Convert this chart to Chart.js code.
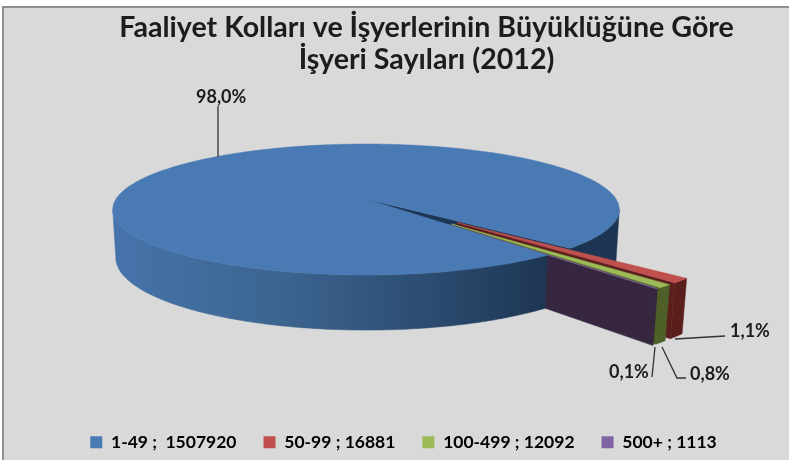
<!DOCTYPE html>
<html>
<head>
<meta charset="utf-8">
<script src="https://cdn.jsdelivr.net/npm/chart.js@4"></script>
<style>
  html, body { margin: 0; padding: 0; background: #fff; }
  #wrap { width: 789px; height: 460px; overflow: hidden; }
  #myChart { filter: blur(0.5px); }
</style>
</head>
<body>
<div id="wrap"><canvas id="myChart" width="789" height="460"></canvas></div>
<script>
const categories = ['1-49', '50-99', '100-499', '500+'];
const isyeriSayilari = [1507920, 16881, 12092, 1113];
const yuzdeEtiketleri = ['98,0%', '1,1%', '0,8%', '0,1%'];
const titleLines = ['Faaliyet Kolları ve İşyerlerinin Büyüklüğüne Göre', 'İşyeri Sayıları (2012)'];

const topColors = ['#4a7ab4', '#c0504d', '#9bbb59', '#8064a2'];
const wallColors = ['#1c3553', '#5a1f1c', '#4e6028', '#36263f'];

// perspective of the 3d pie, top face at z=0, floor at z=1
const cam = { cx: 366, cy: 199, a: 250, b: 63.8, h: 47.9, p: 0.16, q: 0.012 };
const EXPLODE = 0.49;
const SILHOUETTE = Math.asin(cam.p);

const project = (u, v, z) => {
  const w = 1 - cam.p * v + cam.q * z;
  return [cam.cx + cam.a * u / w, cam.cy + (cam.b * v + cam.h * z) / w];
};

const fillPoly = (ctx, pts, fill) => {
  ctx.beginPath();
  pts.forEach((pt, i) => (i ? ctx.lineTo(pt[0], pt[1]) : ctx.moveTo(pt[0], pt[1])));
  ctx.closePath();
  ctx.fillStyle = fill;
  ctx.fill();
  ctx.strokeStyle = fill;
  ctx.lineWidth = 0.5;
  ctx.stroke();
};

const rimPoints = (ox, oy, from, to, z) => {
  const pts = [];
  const steps = Math.max(2, Math.ceil(Math.abs(to - from) / 0.01));
  for (let i = 0; i <= steps; i++) {
    const t = from + (to - from) * i / steps;
    pts.push(project(ox + Math.cos(t), oy + Math.sin(t), z));
  }
  return pts;
};

const wall = (ctx, ox, oy, from, to, fill) => {
  fillPoly(ctx, rimPoints(ox, oy, from, to, 0).concat(rimPoints(ox, oy, from, to, 1).reverse()), fill);
};

const sideWall = (ctx, ox, oy, t, fill) => {
  fillPoly(ctx, [
    project(ox, oy, 0),
    project(ox + Math.cos(t), oy + Math.sin(t), 0),
    project(ox + Math.cos(t), oy + Math.sin(t), 1),
    project(ox, oy, 1)
  ], fill);
};

const topFace = (ctx, ox, oy, from, to, fill) => {
  fillPoly(ctx, [project(ox, oy, 0)].concat(rimPoints(ox, oy, from, to, 0)), fill);
};

const pie3d = {
  id: 'pie3d',
  afterLayout(chart) {
    // the title sits further right than the legend
    chart.titleBlock.left += 23;
    chart.titleBlock.right += 23;
  },
  beforeDraw(chart) {
    const ctx = chart.ctx;
    ctx.save();
    ctx.fillStyle = '#fff';
    ctx.fillRect(0, 0, 789, 460);
    ctx.fillStyle = '#d9d9d9';
    ctx.fillRect(2, 6, 787, 454);
    ctx.fillStyle = '#8f8f8f';
    ctx.fillRect(2, 6, 787, 2);
    ctx.fillRect(2, 6, 2, 454);
    ctx.restore();
  },
  beforeDatasetsDraw(chart) {
    const ctx = chart.ctx;
    const arcs = chart.getDatasetMeta(0).data;
    const blueFrom = arcs[0].startAngle;
    const blueTo = arcs[0].endAngle - Math.PI * 2;

    ctx.save();
    // back part of the big slice, seen through the gap
    wall(ctx, 0, 0, SILHOUETTE, blueTo, wallColors[0]);
    sideWall(ctx, 0, 0, blueTo, wallColors[0]);

    // pulled out slices, each along its own middle angle
    for (let i = 1; i < arcs.length; i++) {
      const mid = (arcs[i].startAngle + arcs[i].endAngle) / 2;
      const ox = EXPLODE * Math.cos(mid);
      const oy = EXPLODE * Math.sin(mid);
      wall(ctx, ox, oy, arcs[i].startAngle, arcs[i].endAngle, wallColors[i]);
      sideWall(ctx, ox, oy, arcs[i].endAngle, wallColors[i]);
      topFace(ctx, ox, oy, arcs[i].startAngle, arcs[i].endAngle, topColors[i]);
    }

    // front of the big slice goes over them
    const grad = ctx.createLinearGradient(112, 0, 548, 0);
    grad.addColorStop(0, '#4674ab');
    grad.addColorStop(0.4, '#3b648f');
    grad.addColorStop(0.75, '#2b4a6e');
    grad.addColorStop(1, '#1d3552');
    wall(ctx, 0, 0, blueFrom, Math.PI - SILHOUETTE, grad);
    topFace(ctx, 0, 0, blueFrom, arcs[0].endAngle, topColors[0]);

    // leader lines and percentage labels
    ctx.strokeStyle = '#333';
    ctx.lineWidth = 1.3;
    [
      [[218, 157], [218, 106]],
      [[675, 339], [725, 336]],
      [[662, 347], [677, 378], [686, 378]],
      [[655, 347], [652, 377]]
    ].forEach(line => {
      ctx.beginPath();
      line.forEach((pt, i) => (i ? ctx.lineTo(pt[0], pt[1]) : ctx.moveTo(pt[0], pt[1])));
      ctx.stroke();
    });
    ctx.fillStyle = '#1c1c1c';
    ctx.font = 'bold 18px Lato';
    ctx.textBaseline = 'middle';
    ctx.textAlign = 'left';
    ctx.fillText(yuzdeEtiketleri[0], 196, 97);
    ctx.fillText(yuzdeEtiketleri[1], 730, 331);
    ctx.fillText(yuzdeEtiketleri[2], 690, 374);
    ctx.fillText(yuzdeEtiketleri[3], 609, 372);
    ctx.restore();
    return false;
  }
};

const ctx = document.getElementById('myChart').getContext('2d');

const myChart = new Chart(ctx, {
  type: 'pie',
  plugins: [pie3d],
  data: {
    labels: categories,
    datasets: [{
      data: isyeriSayilari,
      backgroundColor: topColors,
      borderWidth: 0
    }]
  },
  options: {
    responsive: false,
    animation: false,
    rotation: 140.5,
    layout: { padding: { top: 8, bottom: -1, left: 18 } },
    plugins: {
      tooltip: { enabled: false },
      title: {
        display: true,
        text: titleLines,
        color: '#1c1c1c',
        font: { family: 'Lato', weight: 'bold', size: 28.6, lineHeight: 1.12 },
        padding: { top: 4, bottom: 10 }
      },
      legend: {
        display: true,
        position: 'bottom',
        labels: {
          color: '#1c1c1c',
          font: { family: 'Lato', weight: 'bold', size: 17.5 },
          boxWidth: 12,
          boxHeight: 12,
          padding: 27,
          generateLabels(chart) {
            const seps = [' ;  ', ' ; ', ' ; ', ' ; '];
            return categories.map((c, i) => ({
              text: c + seps[i] + isyeriSayilari[i],
              fillStyle: topColors[i],
              strokeStyle: topColors[i],
              lineWidth: 0,
              index: i
            }));
          }
        }
      }
    }
  }
});
</script>
</body>
</html>
